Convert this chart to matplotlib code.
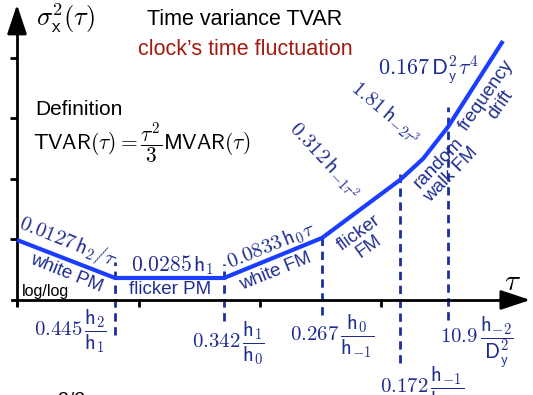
import matplotlib
matplotlib.use('Agg')
import matplotlib.pyplot as plt

plt.rcParams['font.family'] = ['Liberation Sans', 'DejaVu Sans']
plt.rcParams['mathtext.fontset'] = 'cm'

# log(tau) vs log(TVAR), in decades along each axis
curve_x = [0.0, 0.807, 1.704, 2.51, 3.152, 3.342, 3.547, 4.0]
curve_y = [0.99, 0.363, 0.363, 1.023, 1.98, 2.33, 2.855, 4.274]

# crossover taus: position and vertical extent of each dashed marker
cross_x = [0.807, 1.704, 2.51, 3.152, 3.547]
cross_top = [0.627, 0.594, 1.122, 2.112, 3.185]
cross_bot = [-0.578, -0.347, -0.248, -1.04, -0.33]
cross_labels = [r'$0.445\,\dfrac{\mathsf{h}_2}{\mathsf{h}_1}$',
                r'$0.342\,\dfrac{\mathsf{h}_1}{\mathsf{h}_0}$',
                r'$0.267\,\dfrac{\mathsf{h}_0}{\mathsf{h}_{-1}}$',
                r'$0.172\,\dfrac{\mathsf{h}_{-1}}{\mathsf{h}_{-2}}$',
                r'$10.9\,\dfrac{\mathsf{h}_{-2}}{\mathsf{D}_\mathsf{y}^2}$']
cross_label_pos = [(0.436, -0.51), (1.737, -0.71), (2.593, -0.594),
                   (3.333, -1.45), (3.786, -0.693)]

xticks = [0, 1, 2, 3, 4]
yticks = [1, 2, 3, 4]

navy = '#1f2d8f'
blue = '#1a3dff'
dash_col = '#1a2f9e'

fig = plt.figure(figsize=(5.33, 3.95), dpi=100)
ax = fig.add_axes([0, 0, 1, 1])
ax.set_xlim(-0.14, 4.247)
ax.set_ylim(-1.568, 4.95)

for s in ['top', 'right']:
    ax.spines[s].set_visible(False)
ax.spines['left'].set_position(('data', 0))
ax.spines['bottom'].set_position(('data', 0))
ax.spines['left'].set_bounds(-0.08, 4.6)
ax.spines['bottom'].set_bounds(-0.04, 4.1)
ax.spines['left'].set_linewidth(2)
ax.spines['bottom'].set_linewidth(2)
ax.set_xticks(xticks)
ax.set_yticks(yticks)
ax.tick_params(direction='out', length=5, width=2, labelleft=False, labelbottom=False)

ax.annotate('', xy=(0, 4.92), xytext=(0, 4.4),
            arrowprops=dict(arrowstyle='-|>,head_length=0.9,head_width=0.3',
                            color='k', lw=2, mutation_scale=20))
ax.annotate('', xy=(4.247, 0), xytext=(3.95, 0),
            arrowprops=dict(arrowstyle='-|>,head_length=0.9,head_width=0.3',
                            color='k', lw=2, mutation_scale=20))

ax.plot(curve_x, curve_y, color=blue, lw=3, solid_joinstyle='round',
        solid_capstyle='butt', zorder=3)

for x, t, b in zip(cross_x, cross_top, cross_bot):
    ax.plot([x, x], [b, t], color=dash_col, lw=2, ls=(0, (3, 2)), zorder=2)

for lab, (x, y) in zip(cross_labels, cross_label_pos):
    ax.text(x, y, lab, color=navy, fontsize=15, ha='center', va='center')

# axis titles and headers
ax.text(0.4, 4.65, r'$\sigma_\mathsf{x}^2(\tau)$', fontsize=19, ha='center', va='center')
ax.text(4.08, 0.3, r'$\tau$', fontsize=21, ha='center', va='center')
ax.text(1.877, 4.62, 'Time variance TVAR', fontsize=15.5, ha='center', va='center')
ax.text(1.877, 4.125, 'clock\u2019s time fluctuation', fontsize=15.5, color='#a3190f',
        ha='center', va='center')
ax.text(0.148, 3.135, 'Definition', fontsize=15, ha='left', va='center')
ax.text(0.132, 2.59, r'$\mathsf{TVAR}(\tau) = \dfrac{\tau^2}{3}\mathsf{MVAR}(\tau)$',
        fontsize=15.5, ha='left', va='center')
ax.text(0.041, 0.132, 'log/log', fontsize=11.5, ha='left', va='center')

# segment labels
ax.text(0.42, 0.957, r'$0.0127\,\mathsf{h}_2/\tau$', fontsize=15, color=navy,
        rotation=-22, ha='center', va='center', rotation_mode='anchor')
ax.text(0.403, 0.446, 'white PM', fontsize=13.5, color=navy, rotation=-22,
        ha='center', va='center', rotation_mode='anchor')
ax.text(1.284, 0.578, r'$0.0285\,\mathsf{h}_1$', fontsize=15.5, color=navy,
        ha='center', va='center')
ax.text(1.259, 0.18, 'flicker PM', fontsize=13.5, color=navy, ha='center', va='center')
ax.text(2.09, 0.89, r'$0.0833\,\mathsf{h}_0\tau$', fontsize=15, color=navy,
        rotation=22, ha='center', va='center', rotation_mode='anchor')
ax.text(2.13, 0.46, 'white FM', fontsize=13.5, color=navy, rotation=22,
        ha='center', va='center', rotation_mode='anchor')
ax.text(2.856, 0.99, 'flicker\nFM', fontsize=13.5, color=navy, rotation=36,
        ha='center', va='center', rotation_mode='anchor', linespacing=1.0)
ax.text(2.535, 2.31, r'$0.312\,\mathsf{h}_{-1\tau^2}$', fontsize=15, color=navy,
        rotation=-47, ha='center', va='center', rotation_mode='anchor')
ax.text(3.03, 3.10, r'$1.81\,\mathsf{h}_{-2\tau^3}$', fontsize=15, color=navy,
        rotation=-40, ha='center', va='center', rotation_mode='anchor')
ax.text(3.383, 3.795, r'$0.167\,\mathsf{D}_\mathsf{y}^2\tau^4$', fontsize=16, color=navy,
        ha='center', va='center')
ax.text(3.52, 2.16, 'random\nwalk FM', fontsize=13.5, color=navy, rotation=46,
        ha='center', va='center', rotation_mode='anchor', linespacing=1.0)
ax.text(3.92, 3.30, 'frequency\ndrift', fontsize=13.5, color=navy, rotation=55,
        ha='center', va='center', rotation_mode='anchor', linespacing=1.0)

# cut-off footer
ax.text(0.337, -1.52, '2/2', fontsize=14, ha='left', va='top')

fig.savefig('out.png', dpi=100)
